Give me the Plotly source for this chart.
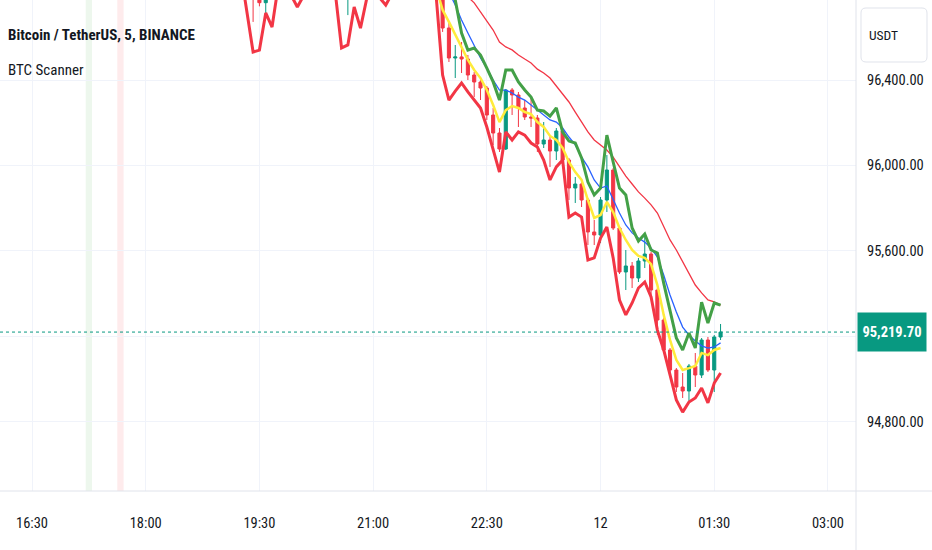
import pandas as pd
import plotly.graph_objects as go

# 5 minute candles, BTCUSDT (Binance)
times = pd.date_range("2025-02-11 19:15", periods=77, freq="5min")

opens = [97010, 96985, 96900, 96790, 96762, 96930, 97000, 97060, 97010, 96920, 96880,
         96975, 97050, 97090, 97045, 96980, 96880, 96800, 96890, 96960, 96925, 96995,
         97060, 96970, 96905, 96985, 97040, 97085, 97060, 97010, 96970, 96910,
         96850, 96643.5, 96503.0, 96508.0, 96498.3, 96423.4, 96390.6, 96362.5, 96236.1,
         96151.8, 96076.9, 96353.2, 96329.8, 96268.9, 96226.7, 96222.1, 96100.3, 96119.0,
         96067.5, 96161.2, 96025.4, 95894.3, 95913.0, 95838.1, 95688.3, 95674.2, 95838.1,
         95978.6, 95707.0, 95501.0, 95529.1, 95472.9, 95552.5, 95585.2, 95416.7, 95276.2,
         95135.7, 95042.1, 94962.5, 94943.7, 95060.8, 95018.6, 95182.5, 95042.1, 95196.6]
highs = [97045, 97000, 96925, 96830, 96960, 97020, 97080, 97090, 97030, 96950, 96990,
         97070, 97110, 97120, 97060, 96995, 96900, 96905, 96985, 97000, 97010, 97080,
         97075, 96985, 97000, 97060, 97100, 97110, 97070, 97030, 96985, 96930,
         96870, 96671.6, 96563.9, 96577.9, 96517.1, 96437.5, 96400.0, 96371.9, 96268.9,
         96175.2, 96358.0, 96362.5, 96343.8, 96306.3, 96320.4, 96236.1, 96203.3, 96142.5,
         96175.2, 96165.9, 96034.8, 95945.8, 95922.4, 95847.5, 95744.4, 95852.1, 96048.8,
         95988.0, 95716.4, 95604.0, 95547.8, 95566.5, 95674.2, 95594.6, 95426.0, 95285.6,
         95145.1, 95051.4, 95028.0, 95070.2, 95121.7, 95191.9, 95196.6, 95206.0, 95257.5]
lows = [96960, 96880, 96672, 96745, 96695, 96905, 96980, 96990, 96900, 96850, 96870,
        96960, 97020, 97030, 96960, 96860, 96790, 96704, 96870, 96900, 96915, 96980,
        96950, 96880, 96895, 96970, 97020, 97040, 96990, 96950, 96890, 96830,
        96625, 96484.3, 96409.4, 96432.8, 96400.0, 96320.4, 96306.3, 96212.7, 96095.6,
        96062.9, 96072.2, 96236.1, 96179.9, 96212.7, 96179.9, 96062.9, 96081.6, 95992.6,
        96025.4, 95992.6, 95838.1, 95824.1, 95805.3, 95627.4, 95627.4, 95636.7, 95781.9,
        95697.6, 95491.6, 95416.7, 95426.0, 95454.1, 95519.7, 95388.6, 95206.0, 95126.4,
        95023.3, 94939.1, 94911.0, 94892.2, 94962.5, 95004.6, 95032.7, 94939.1, 95182.5]
closes = [96985, 96900, 96790, 96762, 96930, 97000, 97060, 97010, 96920, 96880, 96975,
          97050, 97090, 97045, 96980, 96880, 96800, 96890, 96960, 96925, 96995, 97060,
          96970, 96905, 96985, 97040, 97085, 97060, 97010, 96970, 96910, 96850,
          96643.5, 96503.0, 96508.0, 96498.3, 96423.4, 96390.6, 96362.5, 96236.1, 96151.8,
          96076.9, 96353.2, 96329.8, 96268.9, 96226.7, 96222.1, 96100.3, 96119.0, 96067.5,
          96161.2, 96025.4, 95894.3, 95913.0, 95838.1, 95688.3, 95674.2, 95838.1, 95978.6,
          95707.0, 95501.0, 95529.1, 95472.9, 95552.5, 95585.2, 95416.7, 95276.2, 95135.7,
          95042.1, 94962.5, 94943.7, 95060.8, 95018.6, 95182.5, 95042.1, 95196.6, 95219.7]

# BTC Scanner lines
lower_band = [96914, 96723, 96531, 96540, 96714, 96648, 96845, 96880, 96798, 96742, 96795,
              96850, 96900, 96890, 96850, 96812, 96550, 96564, 96742, 96643, 96783, 96860,
              96786, 96751, 96805, 96870, 96900, 96890, 96870, 96840, 96810, 96785,
              96423, 96306, 96348, 96386, 96344, 96306, 96269, 96180, 96072, 95969, 96157,
              96119, 96157, 96142, 96105, 96086, 96025, 95932, 95993, 96025, 95758, 95777,
              95758, 95557, 95567, 95660, 95712, 95567, 95370, 95300, 95356, 95426, 95454,
              95384, 95229, 95136, 95019, 94902, 94845, 94892, 94911, 94958, 94888, 94981,
              95028]
upper_line = [None] * 35 + [
    96830, 96789, 96761, 96718, 96681, 96634, 96578, 96555, 96541, 96517, 96498, 96480,
    96451, 96433, 96409, 96372, 96334, 96297, 96250, 96203, 96157, 96119, 96096, 96072,
    96039, 95993, 95950, 95913, 95876, 95847, 95815, 95777, 95716, 95651, 95604, 95548,
    95496, 95440, 95403, 95370, 95361, 95346]
green_line = [None] * 33 + [
    96835, 96775, 96620, 96540, 96550, 96517, 96456, 96391, 96306, 96447, 96447, 96391,
    96353, 96320, 96259, 96255, 96231, 96269, 96156, 96114, 96105, 96035, 95922, 95862,
    95894, 96142, 96016, 95894, 95862, 95707, 95646, 95679, 95604, 95590, 95449, 95314,
    95192, 95136, 95215, 95145, 95360, 95262, 95356, 95346]
blue_line = [None] * 32 + [
    96860, 96812, 96751, 96681, 96620, 96564, 96503, 96456, 96400, 96353, 96353, 96339,
    96320, 96306, 96283, 96260, 96236, 96213, 96203, 96175, 96133, 96096, 96039, 95993,
    95932, 95894, 95904, 95838, 95777, 95721, 95684, 95660, 95641, 95613, 95571, 95487,
    95393, 95314, 95243, 95206, 95178, 95155, 95145, 95150, 95169]
yellow_line = [None] * 31 + [
    96830, 96728, 96672, 96611, 96555, 96494, 96447, 96409, 96353, 96283, 96203, 96259,
    96278, 96269, 96250, 96241, 96203, 96180, 96138, 96119, 96082, 96016, 95969, 95932,
    95838, 95754, 95768, 95829, 95782, 95707, 95651, 95604, 95576, 95567, 95538, 95440,
    95300, 95183, 95089, 95042, 95051, 95061, 95122, 95112, 95136, 95145]

# scanner background signals
buy_signals = ["2025-02-11 17:15"]
sell_signals = ["2025-02-11 17:40"]

last_price = 95219.70
tick_times = ["2025-02-11 16:30", "2025-02-11 18:00", "2025-02-11 19:30", "2025-02-11 21:00",
              "2025-02-11 22:30", "2025-02-12 00:00", "2025-02-12 01:30", "2025-02-12 03:00"]
tick_text = ["16:30", "18:00", "19:30", "21:00", "22:30", "12", "01:30", "03:00"]
price_ticks = [94800, 95200, 95600, 96000, 96400]
price_text = ["94,800.00", "", "95,600.00", "96,000.00", "96,400.00"]

UP = "#089981"
DOWN = "#F23645"
TXT = "#131722"
FONT = "Roboto Condensed, Roboto, sans-serif"

fig = go.Figure()

line_specs = [
    (upper_line, "#F23645", 1.3),
    (blue_line, "#2962FF", 1.3),
    (yellow_line, "#FFEB3B", 2.5),
    (green_line, "#43A047", 3),
    (lower_band, "#F23645", 3),
]
for vals, col, w in line_specs:
    fig.add_trace(go.Scatter(x=times, y=vals, mode="lines", hoverinfo="skip",
                             line=dict(color=col, width=w)))

fig.add_trace(go.Candlestick(
    x=times, open=opens, high=highs, low=lows, close=closes,
    increasing=dict(line=dict(color=UP, width=1), fillcolor=UP),
    decreasing=dict(line=dict(color=DOWN, width=1), fillcolor=DOWN),
    hoverinfo="skip",
))

half = pd.Timedelta("150s")
for t in buy_signals:
    t = pd.Timestamp(t)
    fig.add_shape(type="rect", xref="x", yref="paper", x0=t - half, x1=t + half, y0=0, y1=1,
                  fillcolor="rgba(76,175,80,0.10)", line_width=0, layer="below")
for t in sell_signals:
    t = pd.Timestamp(t)
    fig.add_shape(type="rect", xref="x", yref="paper", x0=t - half, x1=t + half, y0=0, y1=1,
                  fillcolor="rgba(242,54,69,0.10)", line_width=0, layer="below")

# last price line
fig.add_shape(type="line", xref="paper", yref="y", x0=0, x1=1, y0=last_price, y1=last_price,
              line=dict(color=UP, width=1, dash="dot"))

# pane separators
fig.add_shape(type="line", xref="paper", yref="paper", x0=1, x1=1, y0=-0.1202, y1=1,
              line=dict(color="#E0E3EB", width=1))
fig.add_shape(type="line", xref="paper", yref="paper", x0=0, x1=1.0888, y0=0, y1=0,
              line=dict(color="#E0E3EB", width=1))

# currency button
x0, x1, yt, yb, rx, ry = 1.00584, 1.08294, 0.98371, 0.87373, 0.00584, 0.01018
fig.add_shape(type="path", xref="paper", yref="paper",
              path=(f"M {x0+rx},{yt} L {x1-rx},{yt} Q {x1},{yt} {x1},{yt-ry} "
                    f"L {x1},{yb+ry} Q {x1},{yb} {x1-rx},{yb} L {x0+rx},{yb} "
                    f"Q {x0},{yb} {x0},{yb+ry} L {x0},{yt-ry} Q {x0},{yt} {x0+rx},{yt} Z"),
              line=dict(color="#E0E3EB", width=1), fillcolor="white")

fig.add_annotation(xref="paper", yref="paper", x=1.0129, y=0.9287, xanchor="left",
                   yanchor="middle", showarrow=False, text="USDT",
                   font=dict(family=FONT, size=13.5, color=TXT))
fig.add_annotation(xref="paper", yref="y", x=1, xshift=1, y=last_price, xanchor="left",
                   yanchor="middle", showarrow=False, text=f"<b>{last_price:,.2f}</b>",
                   bgcolor=UP, width=66, height=36, borderpad=1,
                   font=dict(family=FONT, size=14.5, color="white"))
fig.add_annotation(xref="paper", yref="paper", x=0.007, y=0.9287, xanchor="left",
                   yanchor="middle", showarrow=False,
                   text="<b>Bitcoin / TetherUS, 5, BINANCE</b>",
                   font=dict(family=FONT, size=15, color=TXT))
fig.add_annotation(xref="paper", yref="paper", x=0.007, y=0.8574, xanchor="left",
                   yanchor="middle", showarrow=False, text="BTC Scanner",
                   font=dict(family=FONT, size=15, color=TXT))

fig.update_layout(
    width=932, height=550,
    margin=dict(l=0, r=76, t=0, b=59),
    paper_bgcolor="white", plot_bgcolor="white",
    showlegend=False, hovermode=False,
    xaxis=dict(
        range=["2025-02-11 16:04:40", "2025-02-12 03:22:12"],
        rangeslider=dict(visible=False),
        tickvals=tick_times, ticktext=tick_text,
        showgrid=True, gridcolor="#F0F3FA", gridwidth=1,
        zeroline=False, showline=False, ticks="",
        ticklabelstandoff=21,
        tickfont=dict(family=FONT, size=14.5, color=TXT),
    ),
    yaxis=dict(
        side="right",
        range=[94475.5, 96774.6],
        tickvals=price_ticks, ticktext=price_text,
        showgrid=True, gridcolor="#F0F3FA", gridwidth=1,
        zeroline=False, showline=False, ticks="",
        ticklabelstandoff=10,
        tickfont=dict(family=FONT, size=14.5, color=TXT),
    ),
)

fig.write_html("out.html", config={"displayModeBar": False},
               post_script="document.body.style.margin='0';")
